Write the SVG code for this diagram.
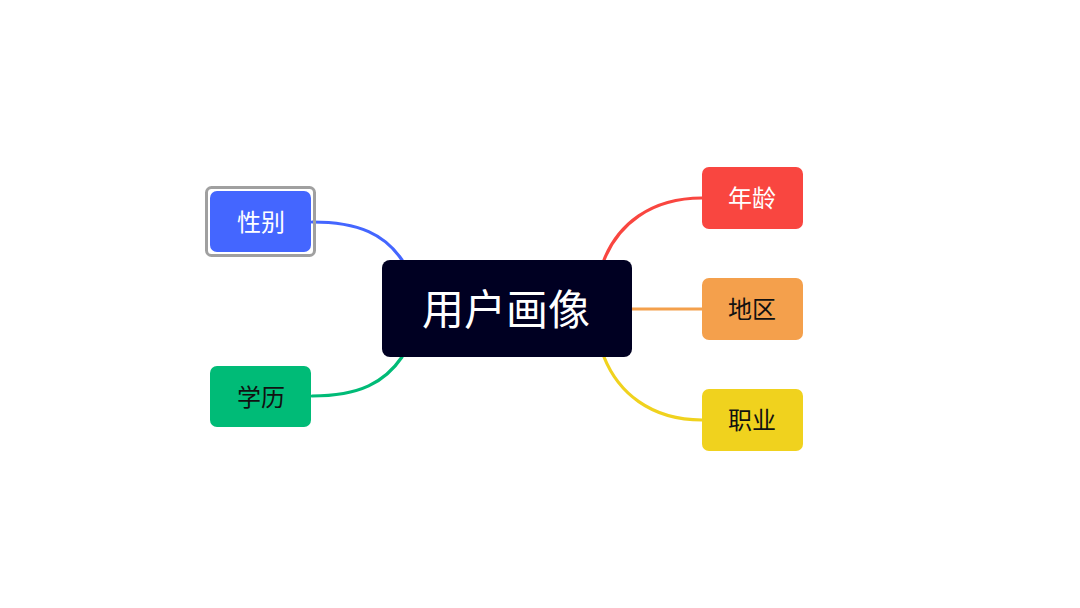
<svg xmlns="http://www.w3.org/2000/svg" width="1080" height="608" viewBox="0 0 1080 608">
<style>
.t{font-family:"Noto Sans CJK SC","Noto Sans",sans-serif;text-anchor:middle}
.c{fill:none;stroke-width:3.2;stroke-linecap:round}
.w{fill:#ffffff}
.b{fill:#111111}
</style>
<rect width="1080" height="608" fill="#ffffff"/>
<g id="connectors">
<path class="c" stroke="#4466ff" d="M312,222 C360,222 385,235 402,260"/>
<path class="c" stroke="#00bb77" d="M312,396 C360,396 385,382 402,357"/>
<path class="c" stroke="#f94640" d="M604,260 C618,225 650,198 702,198"/>
<path class="c" stroke="#f4a04c" d="M632,309 L702,309"/>
<path class="c" stroke="#f0d21e" d="M604,357 C618,392 650,420 702,420"/>
</g>
<g id="center">
<rect x="382" y="260" width="250" height="97" rx="8" fill="#000022"/>
<text class="t w" x="506" y="325" font-size="42">用户画像</text>
</g>
<g id="gender">
<rect x="206.5" y="187.5" width="108" height="68" rx="5" fill="none" stroke="#a0a0a0" stroke-width="3"/>
<rect x="210" y="191" width="101" height="61" rx="7" fill="#4466ff"/>
<text class="t w" x="261" y="230.5" font-size="24">性别</text>
</g>
<g id="education">
<rect x="210" y="366" width="101" height="61" rx="7" fill="#00bb77"/>
<text class="t b" x="261" y="405.5" font-size="24">学历</text>
</g>
<g id="age">
<rect x="702" y="167" width="101" height="62" rx="7" fill="#f94640"/>
<text class="t w" x="752" y="206.5" font-size="24">年龄</text>
</g>
<g id="region">
<rect x="702" y="278" width="101" height="62" rx="7" fill="#f4a04c"/>
<text class="t b" x="752" y="317.5" font-size="24">地区</text>
</g>
<g id="job">
<rect x="702" y="389" width="101" height="62" rx="7" fill="#f0d21e"/>
<text class="t b" x="752" y="428.5" font-size="24">职业</text>
</g>
</svg>
